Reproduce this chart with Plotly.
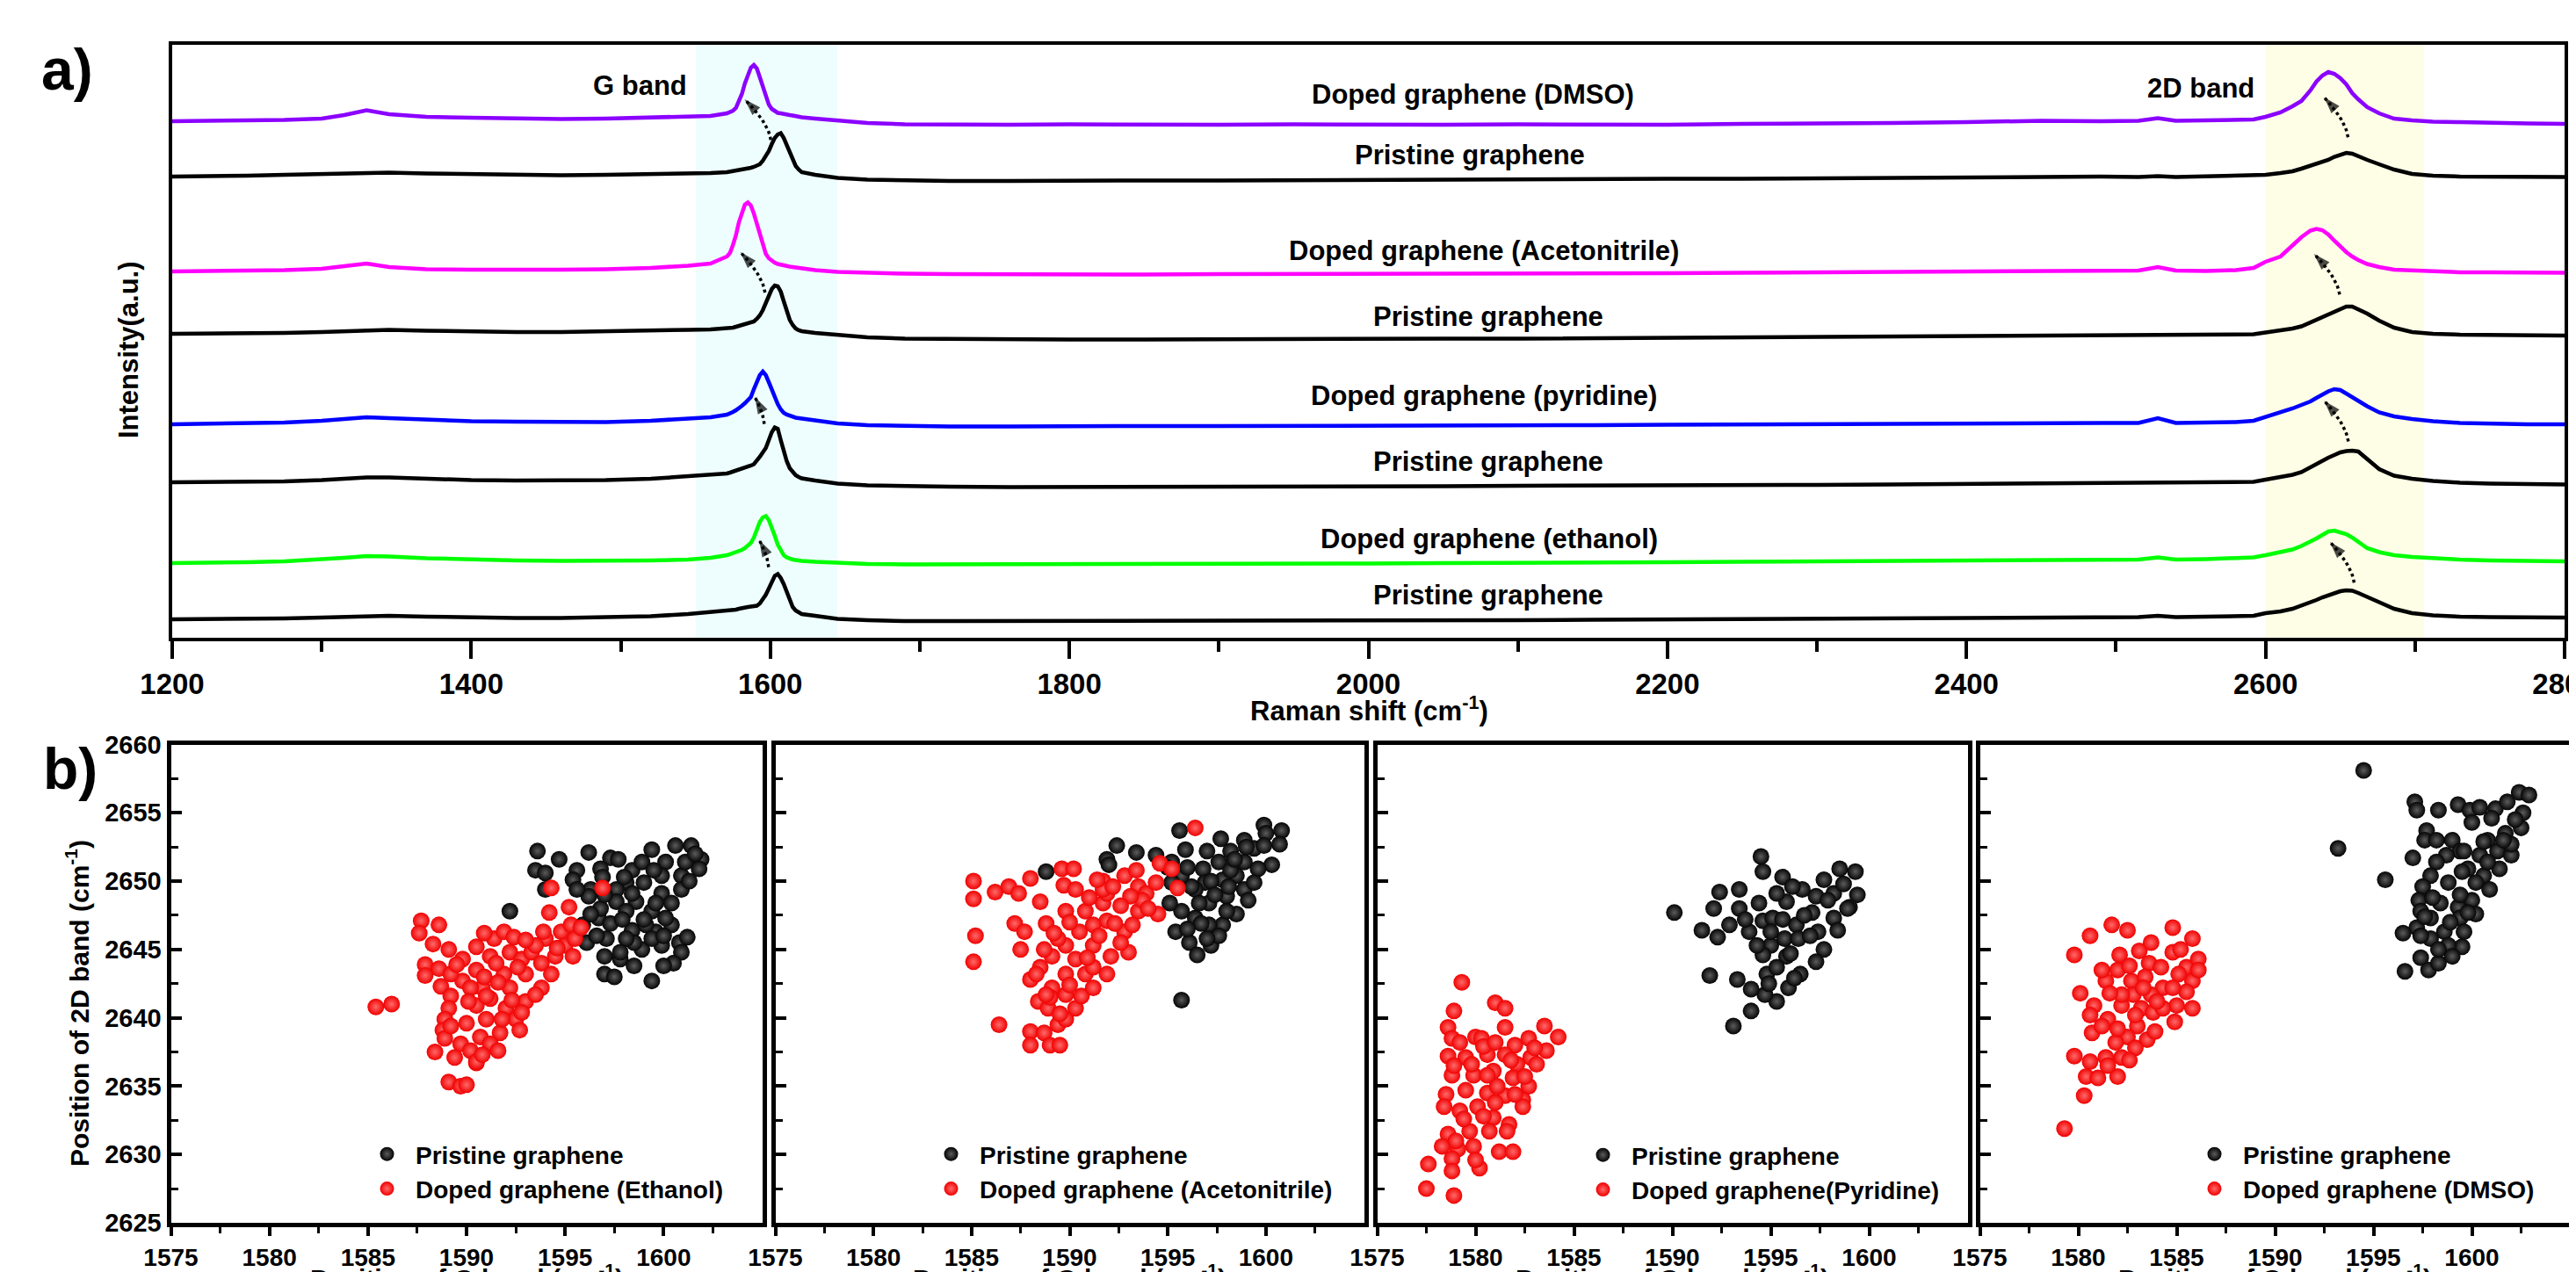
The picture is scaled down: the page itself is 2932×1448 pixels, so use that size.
import plotly.graph_objects as go

# ---------------- DATA ----------------
raman = [1200, 1225, 1250, 1275, 1300, 1315, 1330, 1345, 1370, 1400, 1430, 1460, 1490, 1520, 1545, 1560,
         1571, 1573, 1575, 1577, 1579, 1581, 1583, 1585, 1587, 1589, 1591, 1593, 1595, 1597, 1599, 1601,
         1603, 1605, 1607, 1609, 1611, 1613, 1615, 1617, 1619, 1621,
         1630, 1645, 1665, 1690, 1720, 1760, 1800, 1850, 1900, 1950, 2000, 2050, 2100, 2150, 2200, 2250,
         2300, 2350, 2400, 2450, 2490, 2515, 2528, 2540, 2560, 2580, 2592,
         2600, 2610, 2618, 2624, 2630, 2634, 2638, 2642, 2646, 2650, 2654, 2658, 2662, 2668, 2676, 2686,
         2698, 2712,
         2730, 2750, 2775, 2800]

doped_dmso = [588, 588, 589, 589.5, 591, 595, 600.5, 596, 593, 592, 591, 590.5, 591, 592, 593, 594,
              597, 598, 600, 603, 611, 619, 631, 641, 649, 652, 648, 638, 627, 615, 607, 602, 599, 597.5,
              597, 596, 595.5, 595, 594.5, 593.5, 593, 592.5,
              591, 589, 586, 584.5, 584, 584, 584.5, 584, 584, 584.5, 584, 584, 584.5, 584, 584, 585, 585,
              586, 587, 588.5, 588, 588.5, 591.5, 588.5, 589, 589, 590,
              593, 598, 605, 611, 623, 633, 640, 644, 642, 637, 630, 620, 613, 604, 597, 591, 589, 587.5,
              587, 586, 585.5, 585]
pristine_1 = [525, 525, 526, 527, 528, 529, 530, 529.5, 528.5, 527.5, 526.5, 526.5, 527, 527.5, 528, 529,
              530, 530.5, 531, 531.5, 532, 532.5, 533, 534, 535, 536, 537.5, 539, 543, 548, 554, 562, 569,
              573, 574.5, 569, 561, 552, 544, 537, 533, 530,
              527, 523.5, 521.5, 520.5, 520, 520, 520.5, 520.5, 520.5, 521, 521, 521.5, 521.5, 522, 522.5,
              522.5, 523, 523.5, 524, 525, 525, 524.5, 525.5, 524.5, 525, 525.5, 526,
              527, 529, 531, 534, 537, 539, 541, 544, 547.5, 550, 552, 551, 548, 544, 539, 533, 528, 526,
              525, 525, 525, 524.5]
doped_acetonitrile = [417, 417, 418, 418.5, 420, 423, 426, 422, 419.5, 419, 418.5, 419, 419.5, 421, 423.5, 426,
                      434, 438, 447, 458, 473, 485, 493, 495.5, 492, 483, 471, 457, 445, 437, 432, 429, 427,
                      425.5, 424.5, 423.5, 423, 422.5, 422, 421.5, 421, 420.5,
                      418.5, 416.5, 415.5, 414.5, 414, 413.5, 413.5, 413.5, 414, 414, 414.5, 414.5, 415, 415,
                      415, 415.5, 416, 416.5, 417, 417.5, 418, 418, 422, 418, 417.5, 418.5, 421,
                      428, 434, 447, 456, 463.5, 465.5, 464, 459, 452, 445, 439, 434, 430, 425.5, 422, 419,
                      418, 417,
                      416, 416, 415.5, 415.5]
pristine_2 = [346, 346, 346.5, 347, 348, 349, 350.5, 350.5, 349.5, 348.5, 348, 348, 348.5, 349.5, 350.5, 351,
              352, 352.5, 353, 354, 355, 356, 357, 358, 359, 360, 363, 367, 373, 380, 389, 397, 401, 400,
              394, 383, 372, 362, 356, 352, 350, 349,
              347, 344.5, 342, 340.5, 340, 339.5, 339.5, 339.5, 340, 340, 340, 340.5, 340.5, 341, 341.5, 342,
              342.5, 343, 343.5, 344, 344.5, 344.5, 345, 344.5, 344.5, 345, 345.5,
              347.5, 349.5, 352, 354.5, 359, 362, 365, 369, 372, 375, 377, 377, 374, 369, 361, 353, 348, 346,
              345, 344.5, 344.5, 344]
doped_pyridine = [243, 243.5, 244, 245, 247, 249, 251, 250, 248, 246.5, 246, 245.5, 245.5, 247, 249, 251,
                  254, 255, 257, 259, 261, 264, 267, 270, 274, 283, 292, 299, 303, 299, 291, 282, 273, 266,
                  260, 256, 254, 252.5, 251.5, 250.5, 250, 249.5,
                  248, 244, 242, 241, 240.5, 240.5, 241, 241, 241, 241, 241.5, 241.5, 242, 242, 242.5, 243,
                  243, 243.5, 244, 244.5, 244.5, 244.5, 250, 244.5, 244.5, 245.5, 247,
                  251, 256, 261, 265, 269, 273, 277, 280.5, 283, 282, 278, 273.5, 269, 263.5, 256.5, 252,
                  249, 246.5,
                  244.5, 243.5, 243, 243]
pristine_3 = [177, 177, 177.5, 178, 179.5, 181, 182.5, 182.5, 181, 179.5, 179, 179, 179.5, 181, 183.5, 185,
              187, 188, 189, 190, 191, 192, 193, 194.5, 196, 197.5, 201, 206, 211, 216, 225, 234, 239.5,
              238, 225, 212, 201, 193, 188, 185, 183, 181.5,
              179, 175.5, 173.5, 172.5, 172, 171.5, 171.5, 171.5, 171.5, 172, 172, 172.5, 173, 173, 173.5,
              174, 174, 174.5, 175, 175.5, 176, 176, 176.5, 176, 176.5, 177, 177.5,
              180, 182.5, 185.5, 188.5, 194, 198, 202, 205, 208, 211, 212.5, 213, 212, 204, 192, 184.5,
              181, 178.5,
              176.5, 175.5, 175, 174.5]
doped_ethanol = [85, 85, 86, 87, 89, 91, 93, 92.5, 90.5, 89, 88, 87.5, 87.5, 88, 89, 91,
                 94, 95, 96, 97, 98, 100, 102, 105, 108, 114, 124, 132, 137, 138.5, 134, 126, 116, 106, 99,
                 94, 91.5, 90, 89, 88.5, 88, 87.5,
                 86.5, 85, 84, 83.5, 83.5, 83.5, 83.5, 84, 84, 84.5, 84.5, 85, 85, 85.5, 86, 86.5, 87, 87.5,
                 88, 88.5, 89, 89, 91.5, 89, 89.5, 90.5, 91.5,
                 94, 97, 100.5, 104.5, 109, 113, 117, 121, 122, 120.5, 118, 114, 109, 102, 97.5, 94, 92,
                 90.5,
                 89, 88, 87.5, 87]
pristine_4 = [21, 21, 21.5, 22, 23, 24, 25, 25, 24, 23, 22.5, 22.5, 23, 24.5, 27, 29,
              30.5, 31, 31.5, 32, 33, 34, 34.5, 35, 35.5, 36, 36.5, 39, 43.5, 49, 56, 64, 70.5, 72.5, 68,
              61, 52, 42, 35, 31, 28.5, 27,
              25, 21.5, 20, 19, 19, 19, 19, 19, 19, 19.5, 19.5, 20, 20, 20.5, 21, 21, 21.5, 22, 22.5, 23,
              23.5, 23.5, 25, 23.5, 24, 24.5, 25,
              28, 30, 33, 36.5, 40.5, 43, 46, 48.5, 51, 53, 54, 53.5, 51, 47, 40.5, 33, 28, 25.5,
              24, 23.5, 23, 23]

spectra_names = ["Doped graphene (DMSO)", "Pristine graphene", "Doped graphene (Acetonitrile)",
                 "Pristine graphene", "Doped graphene (pyridine)", "Pristine graphene",
                 "Doped graphene (ethanol)", "Pristine graphene"]
spectra_values = [doped_dmso, pristine_1, doped_acetonitrile, pristine_2,
                  doped_pyridine, pristine_3, doped_ethanol, pristine_4]
spectra_colors = ["#8B00FF", "#000000", "#FF00FF", "#000000", "#0000FF", "#000000", "#00FF00", "#000000"]
label_x = [2070, 2068, 2077, 2080, 2077, 2080, 2080.5, 2080]
label_y = [618, 549.5, 440, 365.5, 275, 201, 113, 49]

g_tail_x = [1600.4, 1596.5, 1596.0, 1598.9]
g_tail_y = [566.8, 393.0, 243.3, 80.4]
g_head_x = [1582.8, 1580.0, 1589.7, 1592.6]
g_head_y = [613.0, 439.0, 274.0, 111.2]
d_tail_x = [2655.2, 2649.6, 2655.4, 2659.3]
d_tail_y = [569.8, 390.7, 223.5, 62.8]
d_head_x = [2639.2, 2632.4, 2639.2, 2643.1]
d_head_y = [615.2, 437.0, 269.7, 109.0]

g_band_range = [1550, 1645]
d_band_range = [2600, 2706]

top_ticks = [1200, 1400, 1600, 1800, 2000, 2200, 2400, 2600, 2800]
top_minor = [1300, 1500, 1700, 1900, 2100, 2300, 2500, 2700]
bot_xticks = [1575, 1580, 1585, 1590, 1595, 1600]
bot_xminor = [1577.5, 1582.5, 1587.5, 1592.5, 1597.5, 1602.5]

# ---- panel b scatter data: (G position, 2D position) ----
eth_pristine_g = [1593.6, 1594.7, 1593.5, 1594.0, 1594.0, 1592.2, 1596.2, 1597.3, 1597.7, 1595.6, 1595.4, 1596.8,
                  1598.4, 1599.4, 1600.6, 1601.4, 1601.9, 1601.8, 1600.1, 1599.9, 1600.9, 1598.1, 1597.6, 1599.0,
                  1596.3, 1599.9, 1600.9, 1598.6, 1597.6, 1596.7, 1598.1, 1599.4, 1600.4, 1596.1, 1597.1, 1598.4,
                  1599.6, 1600.4, 1600.8, 1597.0, 1597.8, 1598.9, 1599.9, 1600.9, 1600.5, 1597.0, 1597.5, 1599.4,
                  1595.9, 1599.1, 1600.1, 1598.5, 1597.3, 1596.2, 1595.6, 1598.9, 1601.1, 1599.4, 1598.1, 1596.6,
                  1598.4, 1599.6, 1596.8, 1597.9, 1599.0, 1600.0, 1598.0, 1599.5, 1596.9, 1601.3, 1601.6, 1597.8,
                  1598.5, 1596.3, 1597.0, 1600.0, 1601.2]
eth_pristine_d = [2652.2, 2651.6, 2650.8, 2650.6, 2649.4, 2647.8, 2652.1, 2651.7, 2651.6, 2650.8, 2650.1, 2650.9,
                  2650.8, 2652.3, 2652.6, 2652.6, 2651.6, 2650.9, 2651.4, 2650.4, 2650.4, 2649.9, 2649.4, 2649.9,
                  2649.4, 2649.1, 2649.4, 2648.5, 2648.5, 2647.3, 2647.8, 2647.8, 2648.4, 2645.5, 2645.8, 2646.4,
                  2646.3, 2646.8, 2645.5, 2644.5, 2644.3, 2645.0, 2645.3, 2644.8, 2644.0, 2643.2, 2643.0, 2642.7,
                  2646.8, 2646.8, 2647.3, 2645.5, 2646.9, 2648.9, 2649.4, 2651.4, 2651.4, 2645.8, 2645.8, 2646.0,
                  2649.1, 2648.4, 2648.0, 2647.2, 2647.2, 2646.0, 2650.3, 2650.8, 2650.3, 2650.0, 2652.0, 2644.8,
                  2643.8, 2647.6, 2649.0, 2643.8, 2645.9]
eth_doped_g = [1585.4, 1586.2, 1587.7, 1588.6, 1587.6, 1588.3, 1589.1, 1587.9, 1588.6, 1587.9, 1588.7, 1589.2,
               1589.1, 1588.9, 1588.8, 1588.9, 1588.4, 1589.4, 1589.1, 1589.7, 1590.0, 1590.5, 1589.8, 1590.5,
               1591.4, 1591.9, 1592.4, 1592.2, 1591.2, 1590.5, 1589.8, 1590.8, 1591.9, 1592.8, 1593.3, 1593.8,
               1593.0, 1592.2, 1591.2, 1590.5, 1590.0, 1591.0, 1592.0, 1593.0, 1593.8, 1594.3, 1594.5, 1594.0,
               1594.8, 1595.3, 1595.0, 1595.5, 1595.4, 1595.8, 1595.2, 1594.2, 1594.3, 1596.9, 1593.9, 1592.5,
               1592.7, 1591.7, 1590.7, 1589.7, 1590.2, 1591.2, 1591.6, 1590.5, 1592.8, 1593.5, 1589.2, 1590.2,
               1589.2, 1590.9, 1591.6, 1592.6, 1593.5, 1591.0, 1590.1, 1591.8, 1590.8, 1593.0, 1594.6, 1592.3,
               1591.5, 1589.5, 1590.9]
eth_doped_d = [2640.8, 2641.0, 2647.1, 2646.8, 2646.2, 2645.4, 2645.0, 2643.9, 2643.6, 2643.1, 2642.3, 2641.6,
               2640.7, 2639.9, 2639.1, 2638.5, 2637.5, 2637.1, 2635.3, 2635.0, 2635.1, 2636.7, 2644.3, 2645.2,
               2645.8, 2646.3, 2645.9, 2644.8, 2644.5, 2643.5, 2642.7, 2642.2, 2643.2, 2644.3, 2644.8, 2644.0,
               2643.2, 2642.2, 2641.4, 2640.9, 2639.6, 2639.9, 2640.7, 2641.2, 2642.2, 2643.2, 2644.5, 2645.8,
               2646.3, 2646.8, 2645.3, 2645.8, 2644.5, 2646.6, 2648.1, 2647.7, 2649.5, 2649.5, 2646.3, 2639.9,
               2639.1, 2638.9, 2638.6, 2638.1, 2637.6, 2638.1, 2637.6, 2636.8, 2640.4, 2641.7, 2639.4, 2642.2,
               2643.2, 2643.0, 2642.6, 2643.7, 2645.3, 2641.6, 2641.2, 2639.9, 2637.3, 2645.7, 2645.1, 2641.3,
               2644.0, 2643.9, 2646.2]

ace_pristine_g = [1588.8, 1595.6, 1592.4, 1593.4, 1591.9, 1592.0, 1594.4, 1595.2, 1595.9, 1597.7, 1597.0, 1596.8,
                  1597.6, 1598.2, 1598.9, 1599.9, 1600.8, 1600.7, 1600.0, 1599.4, 1600.3, 1599.6, 1598.9, 1598.5,
                  1597.8, 1596.9, 1596.4, 1597.1, 1598.0, 1598.9, 1599.4, 1599.1, 1598.5, 1597.8, 1597.1, 1596.4,
                  1595.7, 1595.1, 1595.4, 1596.1, 1596.5, 1597.2, 1597.6, 1596.2, 1595.7, 1595.2, 1595.7, 1596.6,
                  1598.1, 1596.0, 1597.2, 1598.2, 1599.0, 1597.4, 1598.0, 1596.7, 1596.0, 1597.0, 1599.9, 1598.4,
                  1595.0]
ace_pristine_d = [2650.7, 2653.7, 2652.6, 2652.1, 2651.6, 2651.2, 2651.9, 2651.4, 2652.3, 2653.1, 2652.2, 2650.9,
                  2651.4, 2652.2, 2653.0, 2654.1, 2653.7, 2652.7, 2653.5, 2652.4, 2651.2, 2650.9, 2651.4, 2650.4,
                  2650.1, 2649.9, 2649.4, 2648.4, 2648.9, 2649.4, 2649.9, 2648.6, 2647.6, 2646.8, 2646.8, 2647.3,
                  2647.8, 2648.4, 2646.3, 2645.5, 2644.6, 2645.3, 2646.0, 2649.6, 2650.4, 2649.9, 2641.3, 2648.4,
                  2649.6, 2651.0, 2650.0, 2650.8, 2652.5, 2649.0, 2647.8, 2646.9, 2646.5, 2645.8, 2652.6, 2651.6,
                  2651.0]
ace_doped_g = [1596.4, 1585.1, 1585.1, 1586.2, 1586.9, 1587.4, 1588.0, 1588.5, 1589.6, 1590.2, 1589.7, 1590.3,
               1585.2, 1585.1, 1587.2, 1587.7, 1587.5, 1586.4, 1588.8, 1588.0, 1588.5, 1588.4, 1588.0, 1588.0,
               1588.7, 1589.0, 1589.5, 1589.4, 1588.9, 1589.8, 1590.3, 1589.8, 1590.6, 1591.2, 1590.8, 1589.8,
               1589.1, 1589.1, 1589.8, 1590.3, 1591.2, 1591.9, 1592.1, 1591.2, 1590.5, 1589.8, 1590.8, 1591.7,
               1591.9, 1592.8, 1593.0, 1592.6, 1591.2, 1591.9, 1591.7, 1592.8, 1593.5, 1593.9, 1594.4, 1594.6,
               1595.2, 1595.5, 1594.5, 1593.5, 1593.2, 1593.7, 1593.1, 1591.7, 1591.4, 1589.4, 1588.7, 1588.3,
               1589.0, 1589.5, 1590.0, 1590.9, 1591.5, 1592.3, 1592.6, 1593.4, 1594.0, 1589.2, 1590.0, 1588.8,
               1591.0, 1592.2]
ace_doped_d = [2653.9, 2650.0, 2648.7, 2649.2, 2649.6, 2649.1, 2650.2, 2648.5, 2650.9, 2650.9, 2649.7, 2649.4,
               2646.0, 2644.1, 2646.9, 2646.3, 2645.0, 2639.5, 2646.9, 2642.8, 2643.7, 2641.2, 2639.0, 2638.0,
               2638.9, 2638.0, 2638.0, 2639.5, 2640.7, 2639.9, 2640.7, 2641.7, 2641.6, 2642.2, 2643.2, 2643.2,
               2642.2, 2644.5, 2645.3, 2644.3, 2643.7, 2643.2, 2644.5, 2645.3, 2646.3, 2647.8, 2647.8, 2648.4,
               2647.1, 2646.3, 2644.8, 2645.5, 2646.8, 2649.1, 2650.0, 2650.4, 2649.6, 2649.1, 2649.9, 2651.3,
               2650.9, 2649.5, 2647.6, 2647.8, 2646.8, 2648.6, 2648.9, 2649.4, 2650.1, 2645.8, 2645.0, 2643.2,
               2641.5, 2640.3, 2642.4, 2644.4, 2646.0, 2646.9, 2648.2, 2650.8, 2648.0, 2646.2, 2647.0, 2641.7,
               2648.8, 2649.6]

pyr_pristine_g = [1590.1, 1594.5, 1592.4, 1593.4, 1594.6, 1595.6, 1592.1, 1591.5, 1592.3, 1592.9, 1593.4, 1593.9,
                  1594.4, 1594.6, 1595.1, 1595.8, 1596.6, 1597.7, 1598.5, 1599.3, 1599.4, 1599.0, 1598.2, 1598.4,
                  1597.7, 1597.3, 1597.1, 1596.3, 1595.7, 1595.0, 1594.6, 1595.8, 1596.5, 1595.9, 1595.3, 1594.7,
                  1594.0, 1594.8, 1595.3, 1596.4, 1597.4, 1591.9, 1593.3, 1594.0, 1593.1, 1597.3, 1598.2, 1596.1,
                  1595.3, 1595.0, 1595.6, 1596.0, 1594.9, 1596.7, 1597.9, 1598.7, 1594.3, 1593.7, 1596.2, 1597.0,
                  1598.9]
pyr_pristine_d = [2647.7, 2651.8, 2649.2, 2649.4, 2650.7, 2650.3, 2648.0, 2646.4, 2645.9, 2646.8, 2648.0, 2646.3,
                  2648.4, 2647.1, 2647.3, 2648.5, 2649.4, 2650.1, 2650.9, 2650.7, 2649.0, 2648.1, 2647.3, 2646.4,
                  2645.0, 2644.1, 2647.7, 2646.8, 2645.8, 2645.3, 2644.6, 2644.5, 2643.2, 2642.2, 2641.2, 2641.7,
                  2642.1, 2643.2, 2643.7, 2645.8, 2646.3, 2643.1, 2642.8, 2640.5, 2639.4, 2648.9, 2649.1, 2649.6,
                  2649.1, 2646.3, 2647.2, 2644.7, 2642.5, 2647.5, 2648.6, 2649.8, 2645.3, 2647.2, 2642.9, 2646.0,
                  2648.0]
pyr_doped_g = [1579.3, 1578.9, 1581.0, 1581.5, 1578.6, 1578.8, 1578.6, 1580.0, 1580.3, 1581.5, 1582.0, 1582.7,
               1583.5, 1584.2, 1583.6, 1582.8, 1582.1, 1581.5, 1580.6, 1579.5, 1578.8, 1579.9, 1580.9, 1581.9,
               1582.7, 1582.4, 1581.5, 1580.6, 1579.5, 1578.5, 1578.4, 1579.2, 1580.1, 1580.9, 1581.7, 1582.4,
               1581.6, 1580.7, 1579.7, 1578.6, 1578.3, 1579.1, 1579.9, 1581.2, 1581.9, 1578.8, 1577.6, 1578.8,
               1580.2, 1577.5, 1578.9, 1583.1, 1582.5, 1581.1, 1580.6, 1579.8, 1580.4, 1581.0, 1581.8, 1579.4,
               1580.4, 1581.0, 1579.0, 1580.0, 1582.0, 1583.0, 1579.2, 1578.9]
pyr_doped_d = [2642.6, 2640.5, 2641.1, 2640.7, 2639.3, 2638.5, 2637.2, 2638.6, 2638.5, 2639.3, 2638.0, 2638.5,
               2639.4, 2638.6, 2637.6, 2637.1, 2636.6, 2637.3, 2637.3, 2637.1, 2635.8, 2635.8, 2636.1, 2635.6,
               2635.0, 2634.0, 2634.3, 2634.5, 2634.7, 2634.4, 2633.5, 2633.2, 2633.5, 2632.7, 2632.2, 2633.5,
               2631.7, 2631.7, 2631.7, 2631.5, 2630.6, 2630.4, 2630.6, 2630.2, 2630.2, 2629.7, 2629.3, 2628.8,
               2629.0, 2627.5, 2627.0, 2636.6, 2635.7, 2635.0, 2635.8, 2636.6, 2637.9, 2638.2, 2636.9, 2632.6,
               2632.8, 2633.8, 2631.0, 2629.6, 2634.4, 2637.8, 2638.2, 2636.5]

dmso_pristine_g = [1594.5, 1593.2, 1595.6, 1597.1, 1597.2, 1598.3, 1599.3, 1599.9, 1600.4, 1601.2, 1601.8, 1602.4,
                   1602.9, 1602.6, 1602.5, 1601.7, 1600.8, 1600.0, 1597.7, 1597.6, 1597.0, 1599.0, 1599.4, 1600.4,
                   1601.3, 1602.0, 1601.4, 1600.6, 1599.8, 1598.7, 1598.2, 1597.9, 1597.5, 1597.3, 1597.4, 1598.8,
                   1599.5, 1600.2, 1600.9, 1600.0, 1599.3, 1598.4, 1597.9, 1598.6, 1599.4, 1600.2, 1599.6, 1599.5,
                   1598.8, 1597.9, 1597.2, 1597.4, 1596.5, 1597.4, 1597.8, 1598.3, 1596.6, 1599.0, 1602.0, 1598.2,
                   1599.6, 1600.8, 1601.6, 1602.2, 1598.0, 1598.9, 1599.8, 1598.3, 1597.6, 1599.4, 1600.6, 1601.0]
dmso_pristine_d = [2658.1, 2652.4, 2650.1, 2655.8, 2655.2, 2655.2, 2655.6, 2655.2, 2655.4, 2655.3, 2655.8, 2656.5,
                   2656.3, 2655.0, 2653.9, 2653.5, 2653.0, 2654.3, 2653.7, 2653.0, 2651.7, 2653.0, 2652.2, 2651.9,
                   2652.2, 2651.9, 2650.9, 2650.4, 2650.9, 2651.9, 2651.4, 2650.4, 2649.6, 2648.6, 2647.8, 2649.9,
                   2650.7, 2649.9, 2649.4, 2648.6, 2648.1, 2648.4, 2647.3, 2646.3, 2647.3, 2647.6, 2646.3, 2645.2,
                   2645.3, 2645.8, 2646.6, 2646.0, 2646.2, 2644.4, 2643.5, 2644.0, 2643.4, 2644.5, 2652.7, 2653.0,
                   2652.2, 2651.4, 2653.0, 2654.5, 2648.8, 2647.0, 2647.7, 2645.0, 2647.4, 2649.0, 2652.9, 2654.6]
dmso_doped_g = [1579.3, 1580.3, 1579.8, 1580.6, 1581.7, 1582.5, 1584.8, 1585.8, 1580.1, 1579.8, 1580.7, 1580.4,
                1581.0, 1582.0, 1582.1, 1583.1, 1582.0, 1581.4, 1580.8, 1581.5, 1582.2, 1582.7, 1583.6, 1584.2,
                1584.8, 1585.5, 1586.1, 1585.8, 1585.5, 1585.8, 1585.0, 1584.3, 1583.7, 1583.2, 1583.8, 1584.9,
                1583.0, 1582.5, 1582.2, 1581.4, 1580.6, 1583.5, 1582.9, 1581.9, 1581.2, 1580.6, 1582.8, 1583.4,
                1582.2, 1585.1, 1584.3, 1581.2, 1586.1, 1582.6, 1583.3, 1584.0, 1584.8, 1582.9, 1581.6, 1583.9,
                1582.0, 1585.2, 1583.7, 1581.5, 1582.6]
dmso_doped_d = [2631.9, 2634.3, 2644.6, 2646.0, 2646.8, 2646.4, 2646.6, 2645.8, 2641.8, 2637.2, 2638.9, 2635.7,
                2635.6, 2635.7, 2644.6, 2644.9, 2643.5, 2642.7, 2640.9, 2639.9, 2640.9, 2642.7, 2644.0, 2643.7,
                2644.8, 2643.7, 2644.3, 2642.7, 2641.9, 2640.7, 2640.9, 2642.2, 2641.7, 2640.7, 2640.4, 2639.7,
                2639.4, 2638.6, 2637.1, 2637.1, 2636.8, 2638.4, 2637.8, 2638.2, 2639.4, 2640.2, 2641.7, 2643.0,
                2641.7, 2643.2, 2640.7, 2643.5, 2643.5, 2643.8, 2642.2, 2641.2, 2642.2, 2640.2, 2641.8, 2639.0,
                2639.2, 2645.0, 2645.5, 2636.5, 2636.9]

panel_doped_names = ["Doped graphene (Ethanol)", "Doped graphene (Acetonitrile)",
                     "Doped graphene(Pyridine)", "Doped graphene (DMSO)"]
panel_pristine = [(eth_pristine_g, eth_pristine_d), (ace_pristine_g, ace_pristine_d),
                  (pyr_pristine_g, pyr_pristine_d), (dmso_pristine_g, dmso_pristine_d)]
panel_doped = [(eth_doped_g, eth_doped_d), (ace_doped_g, ace_doped_d),
               (pyr_doped_g, pyr_doped_d), (dmso_doped_g, dmso_doped_d)]

for v in spectra_values:
    if len(v) != len(raman):
        raise ValueError("length mismatch %d vs %d" % (len(v), len(raman)))
for a, b in panel_pristine + panel_doped:
    if len(a) != len(b):
        raise ValueError("scatter mismatch %d %d" % (len(a), len(b)))

# ---------------- LAYOUT GEOMETRY ----------------
W, H = 2932, 1448
F = "Liberation Sans, Arial, Helvetica, sans-serif"


def px(x):
    return x / W


def py(y):
    return 1 - y / H


top_dom_x = [px(188), px(2911)]
top_dom_y = [py(718), py(42.5)]
top_y_range = [0, 675.5]
bot_dom_y = [py(1384), py(839.5)]
bot_dom_x = [[px(186.5), px(859.5)], [px(874.5), px(1544.5)], [px(1559.5), px(2231.5)], [px(2245.5), px(2917.5)]]

fig = go.Figure()

# ---- spectra ----
for name, vals, col in zip(spectra_names, spectra_values, spectra_colors):
    fig.add_trace(go.Scatter(x=raman, y=vals, mode="lines", name=name,
                             line=dict(color=col, width=4.5), showlegend=False,
                             xaxis="x", yaxis="y", hoverinfo="skip"))


# ---- dotted curved shift arrows ----
def bez(p0, c, p1, t):
    return ((1 - t) ** 2 * p0[0] + 2 * (1 - t) * t * c[0] + t * t * p1[0],
            (1 - t) ** 2 * p0[1] + 2 * (1 - t) * t * c[1] + t * t * p1[1])


NSEG = 14
for tx, ty, hx, hy in list(zip(g_tail_x, g_tail_y, g_head_x, g_head_y)) + \
        list(zip(d_tail_x, d_tail_y, d_head_x, d_head_y)):
    c = (tx + 0.1 * (hx - tx), ty + 0.42 * (hy - ty))
    pts = [bez((tx, ty), c, (hx, hy), k / NSEG) for k in range(NSEG + 1)]
    fig.add_trace(go.Scatter(x=[p[0] for p in pts], y=[p[1] for p in pts], mode="lines+markers",
                             line=dict(color="black", width=3.5, dash="dot"),
                             marker=dict(symbol="arrow", angleref="previous", color="black",
                                         size=[0] * NSEG + [20], line=dict(width=0)),
                             showlegend=False, xaxis="x", yaxis="y", hoverinfo="skip"))

# ---- scatter panels ----
for i in range(4):
    xa = "x%d" % (i + 2)
    ya = "y%d" % (i + 2)
    leg = "legend" if i == 0 else "legend%d" % (i + 1)
    pg, pdd = panel_pristine[i]
    dg, ddd = panel_doped[i]
    fig.add_trace(go.Scatter(x=pg, y=pdd, mode="markers", name="Pristine graphene",
                             marker=dict(size=19, color="#030303",
                                         gradient=dict(type="radial", color="#5c5c5c"),
                                         line=dict(width=0)),
                             xaxis=xa, yaxis=ya, legend=leg))
    fig.add_trace(go.Scatter(x=dg, y=ddd, mode="markers", name=panel_doped_names[i],
                             marker=dict(size=19, color="#f00000",
                                         gradient=dict(type="radial", color="#ff6a6a"),
                                         line=dict(width=0)),
                             xaxis=xa, yaxis=ya, legend=leg))

# ---- shapes: highlighted bands ----
shapes = [
    dict(type="rect", xref="x", yref="y domain", x0=g_band_range[0], x1=g_band_range[1],
         y0=0, y1=1, fillcolor="#eefefe", line=dict(width=0), layer="below"),
    dict(type="rect", xref="x", yref="y domain", x0=d_band_range[0], x1=d_band_range[1],
         y0=0, y1=1, fillcolor="#fefee6", line=dict(width=0), layer="below"),
]

annotations = []
lab_font = dict(family=F, size=31, color="black", weight="bold")
for name, lx, ly in zip(spectra_names, label_x, label_y):
    annotations.append(dict(x=lx, y=ly, xref="x", yref="y", text=name, showarrow=False,
                            xanchor="center", yanchor="middle", font=lab_font))
annotations.append(dict(x=1513, y=628, xref="x", yref="y", text="G band", showarrow=False,
                        xanchor="center", yanchor="middle", font=lab_font))
annotations.append(dict(x=2557, y=625, xref="x", yref="y", text="2D band", showarrow=False,
                        xanchor="center", yanchor="middle", font=lab_font))

title_font = dict(family=F, size=31, color="black", weight="bold")
annotations.append(dict(x=px(138), y=py(390), xref="paper", yref="paper", text="Intensity(a.u.)",
                        textangle=-90, showarrow=False, xanchor="center", yanchor="middle", font=title_font))
annotations.append(dict(x=px(1550), y=py(799), xref="paper", yref="paper",
                        text="Raman shift (cm<sup>-1</sup>)", showarrow=False, xanchor="center",
                        yanchor="middle", font=title_font))
annotations.append(dict(x=px(80), y=py(1134), xref="paper", yref="paper",
                        text="Position of 2D band (cm<sup>-1</sup>)", textangle=-90, showarrow=False,
                        xanchor="center", yanchor="middle",
                        font=dict(family=F, size=30, color="black", weight="bold")))
for d in bot_dom_x:
    annotations.append(dict(x=(d[0] + d[1]) / 2, y=py(1445), xref="paper", yref="paper",
                            xanchor="center", yanchor="middle",
                            text="Position of G band (cm<sup>-1</sup>)", showarrow=False,
                            font=dict(family=F, size=30, color="black", weight="bold")))
annotations.append(dict(x=px(68), y=py(71), xref="paper", yref="paper", text="a)", showarrow=False,
                        xanchor="center", yanchor="middle",
                        font=dict(family=F, size=66, color="black", weight="bold")))
annotations.append(dict(x=px(72), y=py(867), xref="paper", yref="paper", text="b)", showarrow=False,
                        xanchor="center", yanchor="middle",
                        font=dict(family=F, size=66, color="black", weight="bold")))

tick_font_top = dict(family=F, size=33, color="black", weight="bold")
tick_font_bot = dict(family=F, size=28, color="black", weight="bold")

layout = dict(
    template="none",
    width=W, height=H, autosize=False,
    margin=dict(l=0, r=0, t=0, b=0, pad=0),
    paper_bgcolor="white", plot_bgcolor="white",
    shapes=shapes, annotations=annotations, showlegend=True,
    xaxis=dict(domain=top_dom_x, range=[1200, 2800], anchor="y", showline=True, linewidth=4,
               linecolor="black", mirror=True, ticks="outside", ticklen=20, tickwidth=4, tickcolor="black",
               tickvals=top_ticks, ticktext=[str(t) for t in top_ticks], tickfont=tick_font_top,
               minor=dict(tickvals=top_minor, ticklen=12, tickwidth=4, ticks="outside", tickcolor="black",
                          showgrid=False),
               showgrid=False, zeroline=False, ticklabeloverflow="allow", automargin=False),
    yaxis=dict(domain=top_dom_y, range=top_y_range, anchor="x", showline=True, linewidth=4,
               linecolor="black", mirror=True, ticks="", showticklabels=False, showgrid=False,
               zeroline=False, automargin=False),
)
for i in range(4):
    k = i + 2
    layout["xaxis%d" % k] = dict(domain=bot_dom_x[i], range=[1575, 1605], anchor="y%d" % k, showline=True,
                                 linewidth=5, linecolor="black", mirror=True, ticks="outside", ticklen=10,
                                 tickwidth=4, tickcolor="black", tickvals=bot_xticks,
                                 ticktext=[str(t) for t in bot_xticks], tickfont=tick_font_bot,
                                 minor=dict(tickvals=bot_xminor, ticklen=7, tickwidth=3, ticks="outside",
                                            tickcolor="black", showgrid=False),
                                 showgrid=False, zeroline=False, ticklabeloverflow="allow", automargin=False)
    layout["yaxis%d" % k] = dict(domain=bot_dom_y, range=[2625, 2660], anchor="x%d" % k, showline=True,
                                 linewidth=5, linecolor="black", mirror=True, ticks="inside", ticklen=12,
                                 tickwidth=4, tickcolor="black", tick0=2625, dtick=5,
                                 tickfont=dict(family=F, size=29, color="black", weight="bold"),
                                 minor=dict(dtick=2.5, ticklen=8, tickwidth=3, ticks="inside",
                                            tickcolor="black", showgrid=False),
                                 showticklabels=(i == 0), showgrid=False, zeroline=False, automargin=False)

legend_sym_x = [436, 1078, 1820, 2516]
legend_top_y = [1281, 1281, 1282, 1281]
for i in range(4):
    key = "legend" if i == 0 else "legend%d" % (i + 1)
    layout[key] = dict(x=px(legend_sym_x[i] - 36), y=py(legend_top_y[i]), xanchor="left", yanchor="top",
                       bgcolor="rgba(0,0,0,0)", borderwidth=0, traceorder="normal",
                       font=dict(family=F, size=28, color="black", weight="bold"),
                       itemsizing="trace", itemwidth=55, tracegroupgap=0)

fig.update_layout(**layout)
fig.write_html("out.html")
